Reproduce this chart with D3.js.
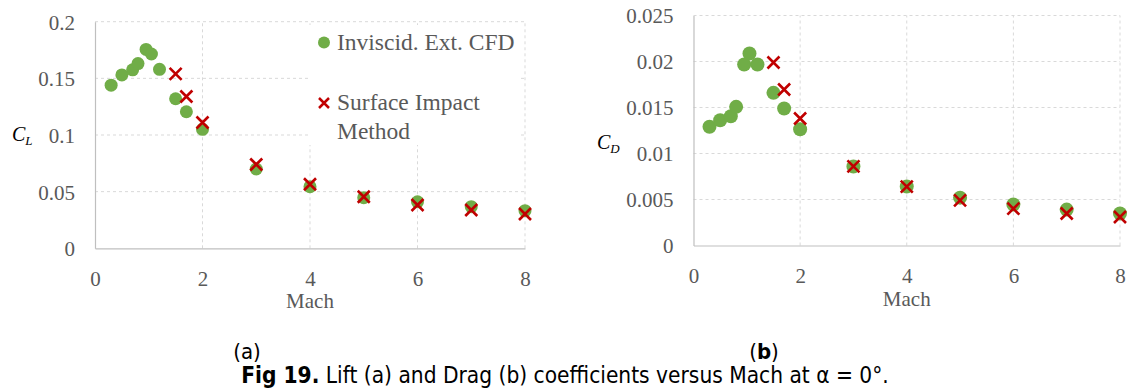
<!DOCTYPE html>
<html>
<head>
<meta charset="utf-8">
<script src="https://cdn.jsdelivr.net/npm/d3@7"></script>
<style>
  body { margin: 0; background: #fff; }
  svg { display: block; }
</style>
</head>
<body>
<script>
const WIDTH = 1131;
const HEIGHT = 390;
const GREEN = "#70ad47";
const RED = "#c00000";
const TEXT = "#595959";
const SERIF = "'Liberation Serif', 'DejaVu Serif', serif";

// Inviscid Ext. CFD results
const cfdMach = [0.3, 0.5, 0.7, 0.8, 0.95, 1.05, 1.2, 1.5, 1.7, 2, 3, 4, 5, 6, 7, 8];
const cfdCL = [0.144, 0.153, 0.1575, 0.163, 0.1755, 0.1715, 0.158, 0.132, 0.1205, 0.105,
               0.070, 0.0544, 0.0447, 0.041, 0.0367, 0.0332];
const cfdCD = [0.0129, 0.01362, 0.01405, 0.01507, 0.01967, 0.02087, 0.01967, 0.01659, 0.01489, 0.01264,
               0.00858, 0.00641, 0.0052, 0.00446, 0.0039, 0.00348];

// Surface impact method results
const simMach = [1.5, 1.7, 2, 3, 4, 5, 6, 7, 8];
const simCL = [0.154, 0.134, 0.111, 0.074, 0.0565, 0.0455, 0.0382, 0.0338, 0.0303];
const simCD = [0.01989, 0.01696, 0.0138, 0.0086, 0.0064, 0.0049, 0.0040, 0.00348, 0.0031];

const machTicks = [0, 2, 4, 6, 8];
const clTicks = [0, 0.05, 0.1, 0.15, 0.2];
const cdTicks = [0, 0.005, 0.01, 0.015, 0.02, 0.025];

const legendItems = ["Inviscid. Ext. CFD", ["Surface Impact", "Method"]];

const svg = d3.select("body")
              .append("svg")
              .attr("width", WIDTH)
              .attr("height", HEIGHT);

// cross marker path centred on 0,0
const crossPath = (s) => `M${-s},${-s}L${s},${s}M${-s},${s}L${s},${-s}`;

const drawPanel = (opt) => {
  const x = d3.scaleLinear().domain([0, 8]).range([opt.left, opt.right]);
  const y = d3.scaleLinear().domain([0, opt.yMax]).range([opt.bottom, opt.top]);
  const g = svg.append("g");

  // grid lines
  g.selectAll(".hgrid")
   .data(opt.yTicks.filter(d => d > 0))
   .enter()
   .append("line")
   .attr("x1", opt.left).attr("x2", opt.right)
   .attr("y1", d => y(d)).attr("y2", d => y(d))
   .attr("stroke", "#d9d9d9")
   .attr("stroke-dasharray", "3,3");

  g.selectAll(".vgrid")
   .data(machTicks.filter(d => d > 0))
   .enter()
   .append("line")
   .attr("x1", d => x(d)).attr("x2", d => x(d))
   .attr("y1", opt.bottom).attr("y2", opt.top)
   .attr("stroke", "#d9d9d9")
   .attr("stroke-dasharray", "3,3");

  // axes
  const xAxis = d3.axisBottom(x).tickValues(machTicks).tickSize(0).tickPadding(20).tickFormat(d3.format("d"));
  const yAxis = d3.axisLeft(y).tickValues(opt.yTicks).tickSize(0).tickPadding(20).tickFormat(d => d === 0 ? "0" : String(+d.toFixed(3)));

  const gx = g.append("g")
              .attr("transform", "translate(0," + opt.bottom + ")")
              .call(xAxis);
  const gy = g.append("g")
              .attr("transform", "translate(" + opt.left + ",0)")
              .call(yAxis);
  [gx, gy].forEach(a => {
    a.select(".domain").attr("stroke", "#bfbfbf").attr("stroke-width", 1.2);
    a.selectAll("text")
     .attr("font-family", SERIF)
     .attr("font-size", 21)
     .attr("fill", TEXT);
  });
  gy.selectAll("text").attr("dy", "0.35em");
  gx.selectAll("text").attr("dy", "0.85em");

  // axis titles
  g.append("text")
   .attr("x", (opt.left + opt.right) / 2)
   .attr("y", opt.bottom + 60)
   .attr("text-anchor", "middle")
   .attr("font-family", SERIF)
   .attr("font-size", 21)
   .attr("fill", TEXT)
   .text("Mach");

  const yl = g.append("text")
              .attr("x", opt.yLabelX)
              .attr("y", opt.yLabelY)
              .attr("font-family", SERIF)
              .attr("font-style", "italic")
              .attr("font-size", 20)
              .attr("fill", "#000");
  yl.append("tspan").text("C");
  yl.append("tspan").attr("font-size", 13).attr("dy", 4).text(opt.sub);

  // legend box (white, hides grid)
  if (opt.legend) {
    const lg = g.append("g");
    lg.append("rect")
      .attr("x", 308).attr("y", 25)
      .attr("width", 213).attr("height", 120)
      .attr("fill", "#fff");
    lg.append("circle")
      .attr("cx", 324).attr("cy", 42.5).attr("r", 6)
      .attr("fill", GREEN);
    lg.append("path")
      .attr("transform", "translate(324,103)")
      .attr("d", crossPath(5))
      .attr("stroke", RED).attr("stroke-width", 2.5).attr("fill", "none");
    lg.append("text")
      .attr("x", 337).attr("y", 50)
      .attr("font-family", SERIF).attr("font-size", 23.5).attr("fill", TEXT)
      .text(legendItems[0]);
    const t2 = lg.append("text")
                 .attr("font-family", SERIF).attr("font-size", 23.5).attr("fill", TEXT);
    t2.selectAll("tspan")
      .data(legendItems[1])
      .enter()
      .append("tspan")
      .attr("x", 337)
      .attr("y", (d, i) => 110 + i * 29)
      .text(d => d);
  }

  // data points
  g.selectAll(".cfd")
   .data(d3.zip(cfdMach, opt.cfd))
   .enter()
   .append("circle")
   .attr("cx", d => x(d[0]))
   .attr("cy", d => y(d[1]))
   .attr("r", opt.r)
   .attr("fill", GREEN);

  g.selectAll(".sim")
   .data(d3.zip(simMach, opt.sim))
   .enter()
   .append("path")
   .attr("transform", d => "translate(" + x(d[0]) + "," + y(d[1]) + ")")
   .attr("d", crossPath(6))
   .attr("stroke", RED)
   .attr("stroke-width", 2.6)
   .attr("fill", "none");
};

drawPanel({
  left: 95, right: 525, top: 21.7, bottom: 248.3,
  yMax: 0.2, yTicks: clTicks, cfd: cfdCL, sim: simCL,
  sub: "L", yLabelX: 12, yLabelY: 141, legend: true, r: 6.5
});

drawPanel({
  left: 693.5, right: 1120, top: 15.5, bottom: 245.5,
  yMax: 0.025, yTicks: cdTicks, cfd: cfdCD, sim: simCD,
  sub: "D", yLabelX: 597, yLabelY: 149, legend: false, r: 7
});

// sub-figure labels and caption
const SANS = "'DejaVu Sans Condensed', 'DejaVu Sans', sans-serif";
svg.append("text")
   .attr("x", 247).attr("y", 359)
   .attr("text-anchor", "middle")
   .attr("font-family", SANS).attr("font-size", 22)
   .text("(a)");

const lb = svg.append("text")
              .attr("x", 764).attr("y", 359)
              .attr("text-anchor", "middle")
              .attr("font-family", SANS).attr("font-size", 22);
lb.append("tspan").text("(");
lb.append("tspan").attr("font-weight", "bold").text("b");
lb.append("tspan").text(")");

const cap = svg.append("text")
               .attr("x", 565).attr("y", 383)
               .attr("text-anchor", "middle")
               .attr("font-family", SANS).attr("font-size", 22.5);
cap.append("tspan").attr("font-weight", "bold").text("Fig 19.");
cap.append("tspan").text(" Lift (a) and Drag (b) coefficients versus Mach at α = 0°.");
</script>
</body>
</html>
